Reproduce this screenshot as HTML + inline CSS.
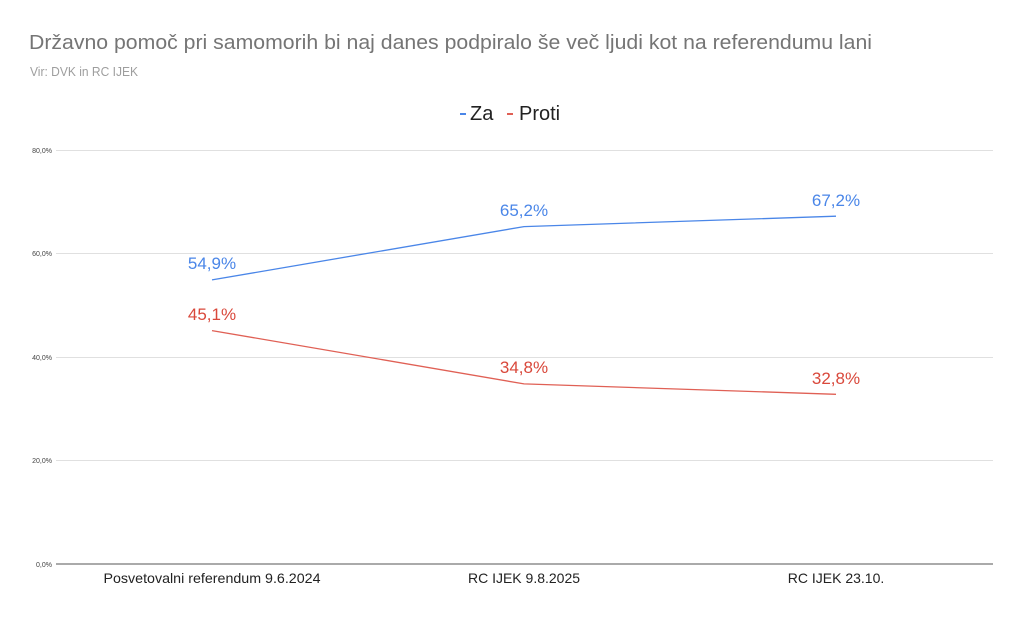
<!DOCTYPE html>
<html>
<head>
<meta charset="utf-8">
<style>
html,body{margin:0;padding:0;background:#fff;}
svg{display:block;}
text{font-family:"Liberation Sans",Arial,sans-serif;}
</style>
</head>
<body>
<svg width="1024" height="619" viewBox="0 0 1024 619" xmlns="http://www.w3.org/2000/svg">
<rect width="1024" height="619" fill="#fff"/>
<!-- Title -->
<text x="29" y="49" font-size="20" fill="#757575" textLength="843" lengthAdjust="spacingAndGlyphs">Državno pomoč pri samomorih bi naj danes podpiralo še več ljudi kot na referendumu lani</text>
<text x="30" y="76" font-size="13" fill="#9e9e9e" textLength="108" lengthAdjust="spacingAndGlyphs">Vir: DVK in RC IJEK</text>
<!-- Legend -->
<rect x="460" y="113" width="6" height="2" fill="#4a86e8"/>
<text x="470" y="120" font-size="20" fill="#222">Za</text>
<rect x="507" y="113" width="6" height="2" fill="#e06055"/>
<text x="519" y="120" font-size="20" fill="#222">Proti</text>
<!-- Gridlines -->
<g stroke="#e0e0e0" stroke-width="1">
<line x1="56" y1="150.5" x2="993" y2="150.5"/>
<line x1="56" y1="253.5" x2="993" y2="253.5"/>
<line x1="56" y1="357.5" x2="993" y2="357.5"/>
<line x1="56" y1="460.5" x2="993" y2="460.5"/>
</g>
<line x1="56" y1="564" x2="993" y2="564" stroke="#555" stroke-width="1"/>
<!-- Y tick labels -->
<g font-size="7" fill="#444" text-anchor="end">
<text x="52" y="153">80,0%</text>
<text x="52" y="256">60,0%</text>
<text x="52" y="360">40,0%</text>
<text x="52" y="463">20,0%</text>
<text x="52" y="567">0,0%</text>
</g>
<!-- X labels -->
<g font-size="14" fill="#222" text-anchor="middle">
<text x="212" y="583" textLength="217" lengthAdjust="spacingAndGlyphs">Posvetovalni referendum 9.6.2024</text>
<text x="524" y="583">RC IJEK 9.8.2025</text>
<text x="836" y="583">RC IJEK 23.10.</text>
</g>
<!-- Series -->
<polyline points="212,279.9 524,226.6 836,216.2" fill="none" stroke="#4a86e8" stroke-width="1.3"/>
<polyline points="212,330.6 524,383.9 836,394.3" fill="none" stroke="#e06055" stroke-width="1.3"/>
<!-- Data labels -->
<g font-size="17" text-anchor="middle">
<text x="212" y="269" fill="#4a86e8">54,9%</text>
<text x="524" y="216" fill="#4a86e8">65,2%</text>
<text x="836" y="206" fill="#4a86e8">67,2%</text>
<text x="212" y="320" fill="#d9483b">45,1%</text>
<text x="524" y="373" fill="#d9483b">34,8%</text>
<text x="836" y="384" fill="#d9483b">32,8%</text>
</g>
</svg>
</body>
</html>
